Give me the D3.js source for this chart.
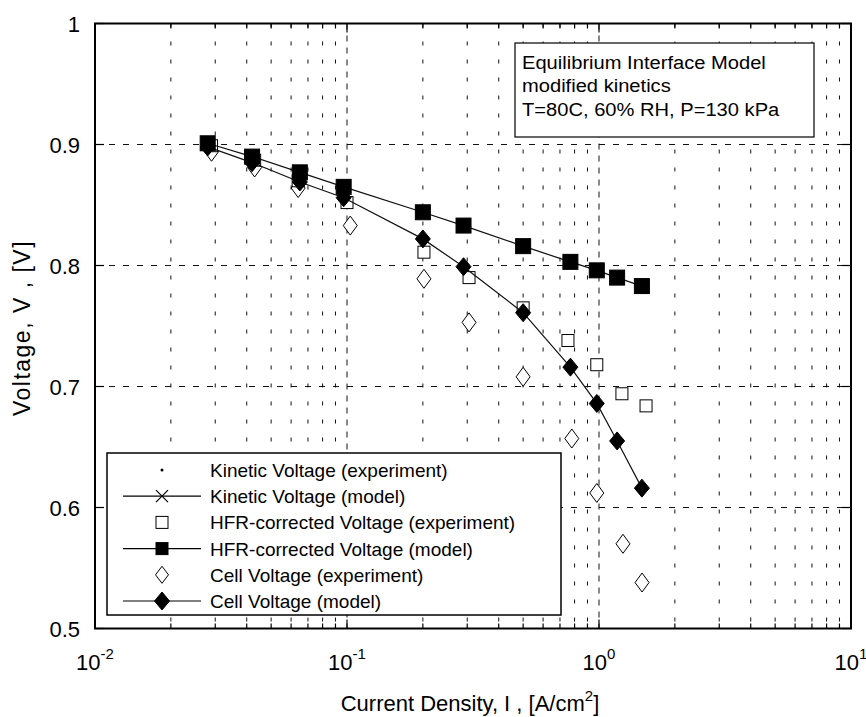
<!DOCTYPE html>
<html><head><meta charset="utf-8">
<script src="https://cdn.jsdelivr.net/npm/d3@7"></script>
<style>body{margin:0;background:#fff}text{font-family:"Liberation Sans",Arial,sans-serif;fill:#000}</style>
</head><body><svg id="c" width="866" height="717"></svg>
<script>
// Data
const modelI = [0.028, 0.042, 0.065, 0.097, 0.2, 0.29, 0.5, 0.77, 0.98, 1.18, 1.48];
const hfrModelV = [0.901, 0.890, 0.877, 0.865, 0.844, 0.833, 0.816, 0.803, 0.796, 0.790, 0.783];
const cellModelV = [0.898, 0.885, 0.869, 0.856, 0.822, 0.799, 0.761, 0.716, 0.686, 0.655, 0.616];
const hfrExpI = [0.029, 0.043, 0.064, 0.1, 0.202, 0.305, 0.5, 0.753, 0.98, 1.233, 1.537];
const hfrExpV = [0.899, 0.887, 0.870, 0.852, 0.811, 0.790, 0.765, 0.738, 0.718, 0.694, 0.684];
const cellExpI = [0.029, 0.043, 0.064, 0.103, 0.202, 0.305, 0.5, 0.78, 0.98, 1.245, 1.482];
const cellExpV = [0.894, 0.881, 0.864, 0.833, 0.789, 0.753, 0.708, 0.657, 0.612, 0.570, 0.538];
const yTicks = [0.5, 0.6, 0.7, 0.8, 0.9, 1];
const yTickLabels = ["0.5", "0.6", "0.7", "0.8", "0.9", "1"];
const xDecades = [0.01, 0.1, 1, 10];
const xDecadeExps = ["-2", "-1", "0", "1"];
const legendLabels = ["Kinetic Voltage (experiment)", "Kinetic Voltage (model)", "HFR-corrected Voltage (experiment)", "HFR-corrected Voltage (model)", "Cell Voltage (experiment)", "Cell Voltage (model)"];
const noteLines = ["Equilibrium Interface Model", "modified kinetics", "T=80C, 60% RH, P=130 kPa"];

const L = 95, R = 851, T = 23.5, B = 628.5;
const svg = d3.select("#c");
const x = d3.scaleLog().domain([0.01, 10]).range([L, R]);
const y = d3.scaleLinear().domain([0.5, 1]).range([B, T]);

const minor = [];
[0.01, 0.1, 1].forEach(d => { for (let k = 2; k <= 9; k++) minor.push(d * k); });

const grid = svg.append("g");
grid.selectAll(".mn").data(minor).enter().append("line")
  .attr("x1", d => x(d)).attr("x2", d => x(d)).attr("y1", T).attr("y2", B)
  .attr("stroke", "#111").attr("stroke-width", 1).attr("stroke-dasharray", "4,14");
grid.selectAll(".mj").data(xDecades.slice(1, 3)).enter().append("line")
  .attr("x1", d => x(d)).attr("x2", d => x(d)).attr("y1", T).attr("y2", B)
  .attr("stroke", "#111").attr("stroke-width", 1).attr("stroke-dasharray", "6,6");
grid.selectAll(".hy").data(yTicks.slice(1, 5)).enter().append("line")
  .attr("x1", L).attr("x2", R).attr("y1", d => y(d)).attr("y2", d => y(d))
  .attr("stroke", "#111").attr("stroke-width", 1).attr("stroke-dasharray", "6,8");

// ticks (inside, all four sides)
const tk = svg.append("g").attr("stroke", "#000").attr("stroke-width", 1.2);
minor.forEach(d => {
  tk.append("line").attr("x1", x(d)).attr("x2", x(d)).attr("y1", B).attr("y2", B - 5);
  tk.append("line").attr("x1", x(d)).attr("x2", x(d)).attr("y1", T).attr("y2", T + 5);
});
xDecades.forEach(d => {
  tk.append("line").attr("x1", x(d)).attr("x2", x(d)).attr("y1", B).attr("y2", B - 9);
  tk.append("line").attr("x1", x(d)).attr("x2", x(d)).attr("y1", T).attr("y2", T + 9);
});
yTicks.forEach(d => {
  tk.append("line").attr("x1", L).attr("x2", L + 9).attr("y1", y(d)).attr("y2", y(d));
  tk.append("line").attr("x1", R).attr("x2", R - 9).attr("y1", y(d)).attr("y2", y(d));
});
svg.append("rect").attr("x", L).attr("y", T).attr("width", R - L).attr("height", B - T)
  .attr("fill", "none").attr("stroke", "#000").attr("stroke-width", 2);

// tick labels
svg.selectAll(".yl").data(yTicks).enter().append("text")
  .attr("x", 80).attr("y", d => y(d) + 8).attr("text-anchor", "end")
  .attr("font-size", 22).text((d, i) => yTickLabels[i]);
xDecades.forEach((d, i) => {
  const t = svg.append("text").attr("x", x(d)).attr("y", 670).attr("text-anchor", "middle").attr("font-size", 22);
  t.append("tspan").text("10");
  t.append("tspan").attr("dy", -11).attr("font-size", 15).text(xDecadeExps[i]);
});

// axis titles
const xt = svg.append("text").attr("x", 470).attr("y", 711).attr("text-anchor", "middle").attr("font-size", 22);
xt.append("tspan").text("Current Density, I , [A/cm");
xt.append("tspan").attr("dy", -10).attr("font-size", 15).text("2");
xt.append("tspan").attr("dy", 10).text("]");
svg.append("text").attr("transform", "translate(30,328) rotate(-90)")
  .attr("text-anchor", "middle").attr("font-size", 23).attr("letter-spacing", 1.5)
  .text("Voltage, V , [V]");

// markers
const sq = (g, cx, cy, s, fill) => g.append("rect").attr("x", cx - s / 2).attr("y", cy - s / 2)
  .attr("width", s).attr("height", s).attr("fill", fill).attr("stroke", "#000").attr("stroke-width", 1);
const dia = (g, cx, cy, w, h, fill) => g.append("path")
  .attr("d", `M${cx},${cy - h / 2}L${cx + w / 2},${cy}L${cx},${cy + h / 2}L${cx - w / 2},${cy}Z`)
  .attr("fill", fill).attr("stroke", "#000").attr("stroke-width", 1);

const plot = svg.append("g");
// experiments (open)
cellExpI.forEach((d, i) => dia(plot, x(d), y(cellExpV[i]), 14, 19, "#fff"));
hfrExpI.forEach((d, i) => sq(plot, x(d), y(hfrExpV[i]), 12, "#fff"));
// model lines
const line = d3.line().x(d => x(d[0])).y(d => y(d[1]));
plot.append("path").datum(modelI.map((d, i) => [d, hfrModelV[i]])).attr("d", line)
  .attr("fill", "none").attr("stroke", "#111").attr("stroke-width", 1.2);
plot.append("path").datum(modelI.map((d, i) => [d, cellModelV[i]])).attr("d", line)
  .attr("fill", "none").attr("stroke", "#111").attr("stroke-width", 1.2);
modelI.forEach((d, i) => sq(plot, x(d), y(hfrModelV[i]), 15, "#000"));
modelI.forEach((d, i) => dia(plot, x(d), y(cellModelV[i]), 15, 18, "#000"));

// legend
const lg = svg.append("g");
lg.append("rect").attr("x", 107).attr("y", 453).attr("width", 454).attr("height", 162)
  .attr("fill", "#fff").attr("stroke", "#000").attr("stroke-width", 1.5);
legendLabels.forEach((lab, i) => {
  const cy = 470 + i * 26.2;
  lg.append("text").attr("x", 210).attr("y", cy + 7).attr("font-size", 19).text(lab);
  if (i % 2 === 1) lg.append("line").attr("x1", 123).attr("x2", 201).attr("y1", cy).attr("y2", cy)
    .attr("stroke", "#000").attr("stroke-width", 1.2);
  if (i === 0) lg.append("circle").attr("cx", 162).attr("cy", cy).attr("r", 1.5).attr("fill", "#000");
  if (i === 1) lg.append("path").attr("d", `M156,${cy - 6}L168,${cy + 6}M156,${cy + 6}L168,${cy - 6}`)
    .attr("stroke", "#000").attr("stroke-width", 1.2);
  if (i === 2) sq(lg, 162, cy, 12, "#fff");
  if (i === 3) sq(lg, 162, cy, 12, "#000");
  if (i === 4) dia(lg, 162, cy, 13, 17, "#fff");
  if (i === 5) dia(lg, 162, cy, 15, 18, "#000");
});

// annotation box
const nb = svg.append("g");
nb.append("rect").attr("x", 515).attr("y", 43).attr("width", 299).attr("height", 94)
  .attr("fill", "#fff").attr("stroke", "#000").attr("stroke-width", 1.2);
noteLines.forEach((t, i) => nb.append("text").attr("x", 522).attr("y", 69 + i * 23.5)
  .attr("font-size", 19).attr("transform", "translate(522,0) scale(1.06,1) translate(-522,0)").text(t));
</script></body></html>
